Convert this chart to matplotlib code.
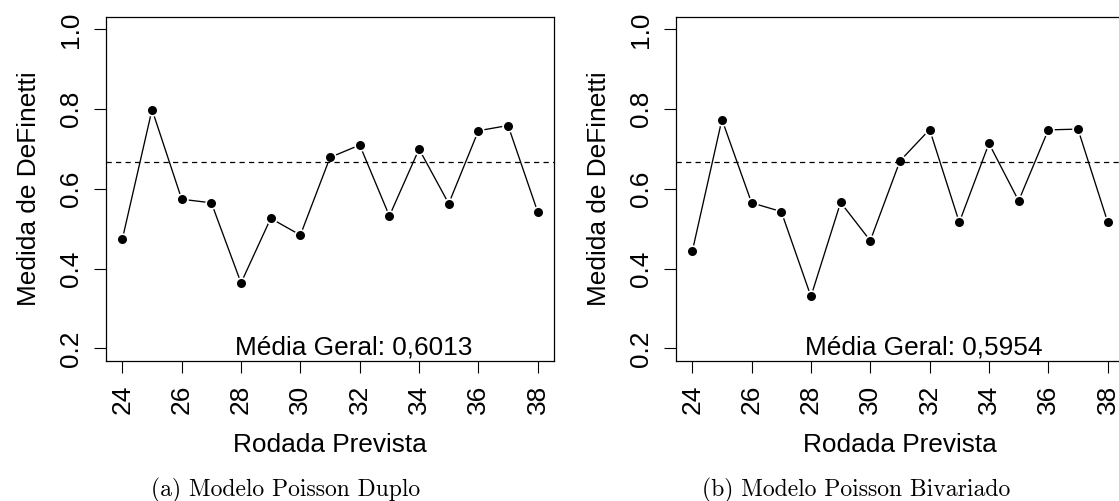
import matplotlib.pyplot as plt

plt.rcParams['font.family'] = ['Liberation Sans', 'DejaVu Sans']

rodadas = list(range(24, 39))
poisson_duplo = [0.474, 0.799, 0.574, 0.565, 0.364, 0.526, 0.484, 0.679,
                 0.710, 0.532, 0.700, 0.563, 0.746, 0.759, 0.542]
poisson_bivariado = [0.443, 0.774, 0.565, 0.543, 0.330, 0.566, 0.470, 0.670,
                     0.749, 0.516, 0.714, 0.570, 0.748, 0.750, 0.517]
referencia = 2 / 3
medias = ['0,6013', '0,5954']
legendas = ['(a) Modelo Poisson Duplo', '(b) Modelo Poisson Bivariado']
xticks = list(range(24, 39, 2))
yticks = [0.2, 0.4, 0.6, 0.8, 1.0]

fs = 18.9

fig = plt.figure(figsize=(11.19, 5.01), dpi=100)
posicoes = [[0.0945, 0.2794, 0.4009, 0.6872],
            [0.6038, 0.2794, 0.4009, 0.6872]]
centros_legenda = [286 / 1119, 856 / 1119]

for pos, valores, media, legenda, cx in zip(posicoes, [poisson_duplo, poisson_bivariado],
                                            medias, legendas, centros_legenda):
    ax = fig.add_axes(pos)
    # estilo type="b" do R: linha com folga em volta dos pontos
    ax.plot(rodadas, valores, color='black', lw=0.95, zorder=2)
    ax.plot(rodadas, valores, 'o', color='white', ms=9.0, mew=0, zorder=3)
    ax.plot(rodadas, valores, 'o', color='black', ms=6.5, mew=0, zorder=4)
    ax.axhline(referencia, color='black', lw=0.9, dashes=(4.2, 3.4), zorder=5)

    ax.set_xlim(23.44, 38.56)
    ax.set_ylim(0.168, 1.032)
    ax.set_xticks(xticks)
    ax.set_xticklabels([str(t) for t in xticks], rotation=90)
    ax.set_yticks(yticks)
    ax.set_yticklabels(['%.1f' % t for t in yticks], rotation=90, va='center')
    ax.tick_params(axis='x', length=8.6, width=0.8, pad=8.5, labelsize=fs)
    ax.tick_params(axis='y', length=8.6, width=0.8, pad=7.8, labelsize=fs)
    for s in ax.spines.values():
        s.set_linewidth(0.9)

    ax.set_xlabel('Rodada Prevista', fontsize=fs)
    ax.xaxis.set_label_coords(0.5, -0.2077)
    ax.set_ylabel('Medida de DeFinetti', fontsize=fs)
    ax.yaxis.set_label_coords(-0.145, 0.5)

    ax.text(31.8, 0.185, 'Média Geral: ' + media, ha='center', va='baseline',
            fontsize=fs)

    fig.text(cx, 1 - 496 / 501, legenda, ha='center', va='baseline',
             family='cmr10', fontsize=17)

fig.savefig('out.png', dpi=100)
